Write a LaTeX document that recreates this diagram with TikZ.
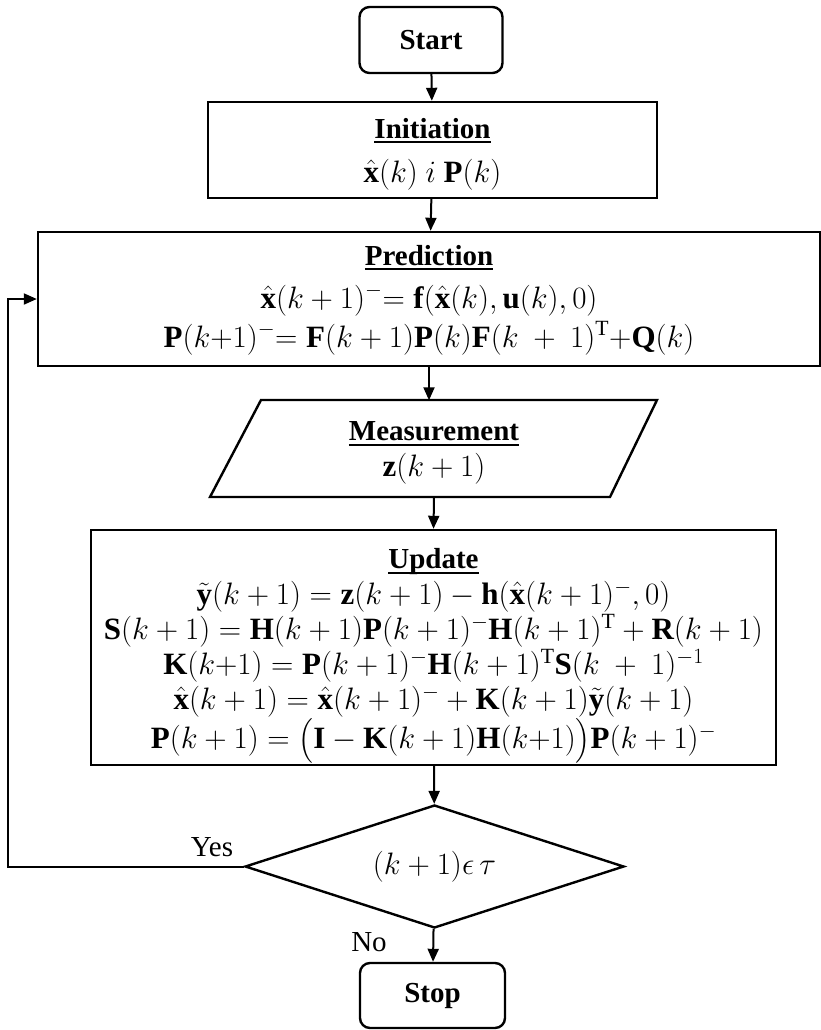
\RequirePackage{fix-cm}
\documentclass[tikz,border=0pt]{standalone}
\usepackage{amsmath}
\usepackage{fontspec}
\setmainfont{Liberation Serif}
\usetikzlibrary{shapes.geometric,arrows.meta}
\begin{document}
\begin{tikzpicture}[x=1pt,y=-1pt,
  every node/.style={font=\fontsize{29}{35}\selectfont},
  box/.style={draw,line width=2.4pt,align=center,inner sep=0pt},
  term/.style={box,rounded corners=10pt},
  txt/.style={align=center,inner sep=0pt},
  flow/.style={line width=2pt,-{Triangle[length=13pt,width=11pt]}}]
\useasboundingbox (0,0) rectangle (821,1030);
\newcommand{\bx}{\hat{\mathbf{x}}}
\newcommand{\by}{\tilde{\mathbf{y}}}
\newcommand{\hd}[1]{\begingroup\setbox0\hbox{\textbf{#1}}\rlap{\raisebox{-5pt}{\rule{\wd0}{2pt}}}\box0\endgroup}
\newcommand{\mth}[1]{{\fontsize{31}{35}\selectfont$#1$}}

\node[term,minimum width=143pt,minimum height=66pt] (start) at (431,40) {\textbf{Start}};

\node[box,minimum width=449pt,minimum height=96pt] (init) at (432.5,150) {};
\node[txt] (inittxt) at (432.5,154)
  {\hd{Initiation}\\[9pt] \mth{\bx(k)\ i\ \mathbf{P}(k)}};

\node[box,minimum width=782pt,minimum height=134pt] (pred) at (429,299) {};
\node[txt] (predtxt) at (429,300)
  {\hd{Prediction}\\[8pt]
   \mth{\bx(k+1)^{-}{=}\;\mathbf{f}(\bx(k),\mathbf{u}(k),0)}\\[4pt]
   \mth{\mathbf{P}(k{+}1)^{-}{=}\;\mathbf{F}(k+1)\mathbf{P}(k)\mathbf{F}(k\ +\ 1)^{\mathrm{T}}{+}\mathbf{Q}(k)}};

\draw[line width=2.4pt,line join=miter] (261,400) -- (657,400) -- (610,497) -- (210,497) -- cycle;
\node[txt,minimum width=300pt,minimum height=97pt] (meas) at (434,449) {};
\node[txt] (meastxt) at (434,453)
  {\hd{Measurement}\\[1pt] \mth{\mathbf{z}(k+1)}};

\node[box,minimum width=685pt,minimum height=235pt] (upd) at (433.5,647.5) {};
\node[txt] (updtxt) at (433.5,656)
  {\hd{Update}\\[1pt]
   \mth{\by(k+1) = \mathbf{z}(k+1) - \mathbf{h}(\bx(k+1)^{-},0)}\\
   \mth{\mathbf{S}(k+1) = \mathbf{H}(k+1)\mathbf{P}(k+1)^{-}\mathbf{H}(k+1)^{\mathrm{T}} + \mathbf{R}(k+1)}\\
   \mth{\mathbf{K}(k{+}1) = \mathbf{P}(k+1)^{-}\mathbf{H}(k+1)^{\mathrm{T}}\mathbf{S}(k\ +\ 1)^{-1}}\\
   \mth{\bx(k+1) ={}\bx(k+1)^{-} + \mathbf{K}(k+1)\by(k+1)}\\
   \mth{\mathbf{P}(k+1) = \bigl(\mathbf{I} - \mathbf{K}(k+1)\mathbf{H}(k{+}1)\bigr)\mathbf{P}(k+1)^{-}}};

\node[box,diamond,aspect=3.08,minimum width=379pt,minimum height=123pt,inner sep=0pt] (dec) at (434.5,866.5)
  {\mth{(k+1)\epsilon\,\tau}};

\node[term,minimum width=145pt,minimum height=65pt] (stop) at (432.5,995.5) {\textbf{Stop}};

\coordinate (lp) at (8,0);

\draw[flow] (start) -- (init);
\draw[flow] (init) -- (pred);
\draw[flow] (pred.south) -- (pred.south |- meas.north);
\draw[flow] (meas.south) -- (upd.north);
\draw[flow] (upd) -- (dec);
\draw[flow] (dec) -- (stop);
\draw[flow] (dec.west) -| (lp |- pred.west) -- (pred.west);

\node (yes) at (212,847) {Yes};
\node (no) at (369,942) {No};
\end{tikzpicture}
\end{document}
